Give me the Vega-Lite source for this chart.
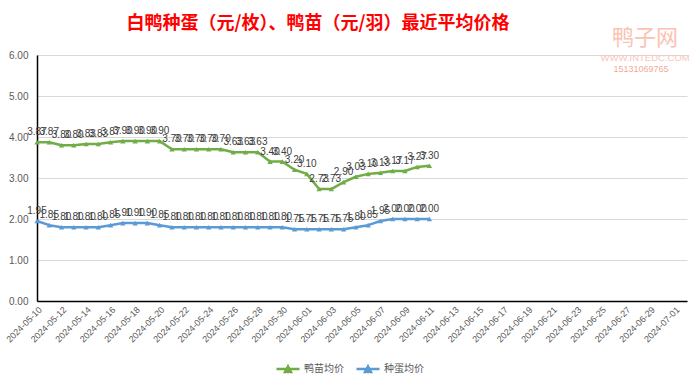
{
  "$schema": "https://vega.github.io/schema/vega-lite/v6.json",
  "width": 650,
  "height": 246,
  "autosize": "none",
  "padding": {"left": 37, "top": 55, "right": 13, "bottom": 82},
  "background": "white",
  "title": {
    "text": "白鸭种蛋（元/枚）、鸭苗（元/羽）最近平均价格",
    "font": "Noto Sans CJK SC",
    "fontSize": 18,
    "fontWeight": "bold",
    "color": "#FF0000",
    "anchor": "middle",
    "dx": -44,
    "dy": 22,
    "offset": 16
  },
  "config": {
    "view": {"stroke": null},
    "font": "Liberation Sans"
  },
  "datasets": {
    "prices": [
      {"date": "2024-05-10", "鸭苗均价": 3.87, "种蛋均价": 1.95},
      {"date": "2024-05-11", "鸭苗均价": 3.87, "种蛋均价": 1.85},
      {"date": "2024-05-12", "鸭苗均价": 3.80, "种蛋均价": 1.80},
      {"date": "2024-05-13", "鸭苗均价": 3.80, "种蛋均价": 1.80},
      {"date": "2024-05-14", "鸭苗均价": 3.83, "种蛋均价": 1.80},
      {"date": "2024-05-15", "鸭苗均价": 3.83, "种蛋均价": 1.80},
      {"date": "2024-05-16", "鸭苗均价": 3.87, "种蛋均价": 1.85},
      {"date": "2024-05-17", "鸭苗均价": 3.90, "种蛋均价": 1.90},
      {"date": "2024-05-18", "鸭苗均价": 3.90, "种蛋均价": 1.90},
      {"date": "2024-05-19", "鸭苗均价": 3.90, "种蛋均价": 1.90},
      {"date": "2024-05-20", "鸭苗均价": 3.90, "种蛋均价": 1.85},
      {"date": "2024-05-21", "鸭苗均价": 3.70, "种蛋均价": 1.80},
      {"date": "2024-05-22", "鸭苗均价": 3.70, "种蛋均价": 1.80},
      {"date": "2024-05-23", "鸭苗均价": 3.70, "种蛋均价": 1.80},
      {"date": "2024-05-24", "鸭苗均价": 3.70, "种蛋均价": 1.80},
      {"date": "2024-05-25", "鸭苗均价": 3.70, "种蛋均价": 1.80},
      {"date": "2024-05-26", "鸭苗均价": 3.63, "种蛋均价": 1.80},
      {"date": "2024-05-27", "鸭苗均价": 3.63, "种蛋均价": 1.80},
      {"date": "2024-05-28", "鸭苗均价": 3.63, "种蛋均价": 1.80},
      {"date": "2024-05-29", "鸭苗均价": 3.40, "种蛋均价": 1.80},
      {"date": "2024-05-30", "鸭苗均价": 3.40, "种蛋均价": 1.80},
      {"date": "2024-05-31", "鸭苗均价": 3.20, "种蛋均价": 1.75},
      {"date": "2024-06-01", "鸭苗均价": 3.10, "种蛋均价": 1.75},
      {"date": "2024-06-02", "鸭苗均价": 2.73, "种蛋均价": 1.75},
      {"date": "2024-06-03", "鸭苗均价": 2.73, "种蛋均价": 1.75},
      {"date": "2024-06-04", "鸭苗均价": 2.90, "种蛋均价": 1.75},
      {"date": "2024-06-05", "鸭苗均价": 3.03, "种蛋均价": 1.80},
      {"date": "2024-06-06", "鸭苗均价": 3.10, "种蛋均价": 1.85},
      {"date": "2024-06-07", "鸭苗均价": 3.13, "种蛋均价": 1.95},
      {"date": "2024-06-08", "鸭苗均价": 3.17, "种蛋均价": 2.00},
      {"date": "2024-06-09", "鸭苗均价": 3.17, "种蛋均价": 2.00},
      {"date": "2024-06-10", "鸭苗均价": 3.27, "种蛋均价": 2.00},
      {"date": "2024-06-11", "鸭苗均价": 3.30, "种蛋均价": 2.00}
    ]
  },
  "encoding": {
    "x": {
      "field": "date",
      "type": "temporal",
      "scale": {
        "type": "utc",
        "domain": [1715299200000, 1719878400000]
      },
      "axis": {
        "title": null,
        "format": "%Y-%m-%d",
        "labelAngle": -45,
        "labelAlign": "right",
        "labelBaseline": "top",
        "labelFontSize": 9,
        "labelColor": "#595959",
        "labelPadding": 4,
        "labelOverlap": false,
        "ticks": false,
        "grid": false,
        "domainColor": "#000000",
        "domainWidth": 1.5,
        "values": [1715299200000, 1715472000000, 1715644800000, 1715817600000, 1715990400000, 1716163200000, 1716336000000, 1716508800000, 1716681600000, 1716854400000, 1717027200000, 1717200000000, 1717372800000, 1717545600000, 1717718400000, 1717891200000, 1718064000000, 1718236800000, 1718409600000, 1718582400000, 1718755200000, 1718928000000, 1719100800000, 1719273600000, 1719446400000, 1719619200000, 1719792000000]
      }
    },
    "y": {
      "field": "price",
      "type": "quantitative",
      "scale": {"domain": [0, 6], "nice": false},
      "axis": {
        "title": null,
        "values": [0, 1, 2, 3, 4, 5, 6],
        "format": ".2f",
        "labelFontSize": 10,
        "labelColor": "#595959",
        "labelPadding": 9,
        "ticks": false,
        "gridColor": "#d9d9d9",
        "gridWidth": 1,
        "domainColor": "#000000",
        "domainWidth": 1.5
      }
    }
  },
  "layer": [
    {
      "data": {"name": "prices"},
      "transform": [{"fold": ["鸭苗均价", "种蛋均价"], "as": ["series", "price"]}],
      "mark": {
        "type": "line",
        "strokeWidth": 2.5,
        "strokeJoin": "round",
        "point": {"shape": "triangle-up", "size": 28, "filled": true, "opacity": 1}
      },
      "encoding": {
        "color": {
          "field": "series",
          "type": "nominal",
          "scale": {"domain": ["鸭苗均价", "种蛋均价"], "range": ["#70AD47", "#5B9BD5"]},
          "legend": {
            "title": null,
            "orient": "none",
            "direction": "horizontal",
            "legendX": 238,
            "legendY": 301,
            "symbolType": "M-1,0H1M-0.26,0.24L0,-0.24L0.26,0.24Z",
            "symbolSize": 529,
            "symbolStrokeWidth": 2.5,
            "labelFont": "Noto Sans CJK SC",
            "labelFontSize": 10,
            "labelColor": "#595959",
            "labelOffset": 3,
            "columnPadding": 7,
            "encode": {
              "symbols": {"update": {"fill": {"scale": "color", "field": "value"}}}
            }
          }
        }
      }
    },
    {
      "data": {"name": "prices"},
      "transform": [{"fold": ["鸭苗均价", "种蛋均价"], "as": ["series", "price"]}],
      "mark": {"type": "text", "dy": -10, "fontSize": 10, "color": "#404040", "font": "Liberation Sans"},
      "encoding": {
        "text": {"field": "price", "type": "quantitative", "format": ".2f"}
      }
    },
    {
      "data": {"values": [{"t": "鸭子网", "d": 1719583200000, "v": 6.41}]},
      "mark": {"type": "text", "fontSize": 22, "font": "Noto Sans CJK SC", "color": "#f8c3b3", "letterSpacing": 8, "align": "center", "baseline": "middle"},
      "encoding": {
        "x": {"field": "d", "type": "temporal"},
        "y": {"field": "v", "type": "quantitative"},
        "text": {"field": "t"}
      }
    },
    {
      "data": {"values": [{"t": "WWW.INTEDC.COM", "d": 1719583200000, "v": 5.93}]},
      "mark": {"type": "text", "fontSize": 9.5, "color": "#f7c6bd", "letterSpacing": 0.8, "align": "center", "baseline": "middle"},
      "encoding": {
        "x": {"field": "d", "type": "temporal"},
        "y": {"field": "v", "type": "quantitative"},
        "text": {"field": "t"}
      }
    },
    {
      "data": {"values": [{"t": "15131069765", "d": 1719554400000, "v": 5.66}]},
      "mark": {"type": "text", "fontSize": 9, "color": "#f3aa9c", "letterSpacing": 2.6, "align": "center", "baseline": "middle"},
      "encoding": {
        "x": {"field": "d", "type": "temporal"},
        "y": {"field": "v", "type": "quantitative"},
        "text": {"field": "t"}
      }
    }
  ]
}
